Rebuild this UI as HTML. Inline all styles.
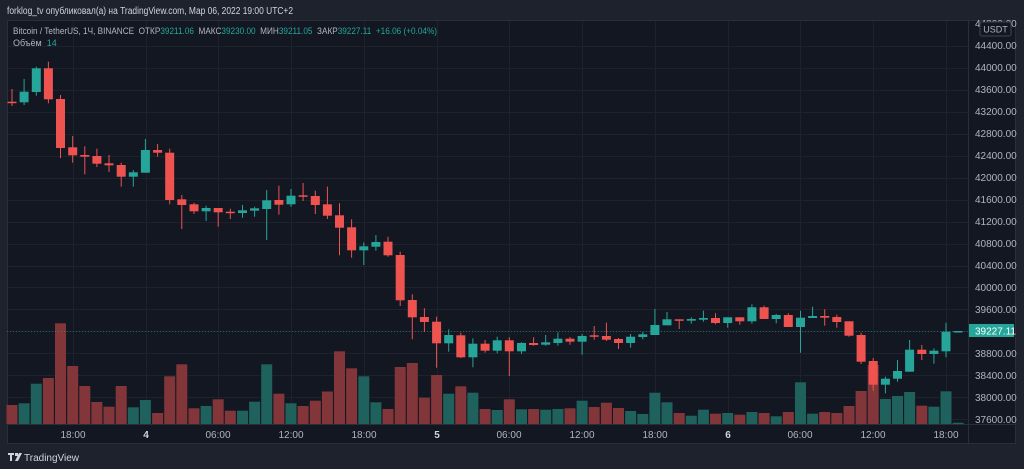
<!DOCTYPE html>
<html><head><meta charset="utf-8"><style>
html,body{margin:0;padding:0;background:#1e222d;width:1024px;height:469px;overflow:hidden;font-family:"Liberation Sans","DejaVu Sans",sans-serif}
</style></head><body>
<svg id="s" width="1024" height="469" xmlns="http://www.w3.org/2000/svg" style="position:absolute;left:0;top:0">
<rect x="0" y="0" width="1024" height="469" fill="#1e222d"/>
<rect x="7" y="20" width="1009" height="424" fill="#131722"/>
<g id="grid" stroke="#1e222d" stroke-width="1"></g>
<line x1="968.5" y1="20" x2="968.5" y2="444" stroke="#2a2e39"/>
<line x1="7" y1="424.5" x2="1016" y2="424.5" stroke="#2a2e39"/>
<rect x="7.5" y="20.5" width="1008" height="423" fill="none" stroke="#2a2e39"/>
<g id="vol"></g>
<line x1="7" y1="331.5" x2="968" y2="331.5" stroke="#26a69a" stroke-opacity="0.5" stroke-dasharray="1,2"/>
<g id="cnd"></g>
<g font-size="10" fill="#b2b5be">
<text x="975" y="27">44800.00</text>
<text x="975" y="49">44400.00</text>
<text x="975" y="71">44000.00</text>
<text x="975" y="93">43600.00</text>
<text x="975" y="115">43200.00</text>
<text x="975" y="137">42800.00</text>
<text x="975" y="159">42400.00</text>
<text x="975" y="181">42000.00</text>
<text x="975" y="203">41600.00</text>
<text x="975" y="225">41200.00</text>
<text x="975" y="247">40800.00</text>
<text x="975" y="269">40400.00</text>
<text x="975" y="291">40000.00</text>
<text x="975" y="313">39600.00</text>
<text x="975" y="357">38800.00</text>
<text x="975" y="379">38400.00</text>
<text x="975" y="401">38000.00</text>
<text x="975" y="423">37600.00</text>
</g>
<rect x="980" y="22" width="31" height="14" rx="2" fill="#131722" stroke="#434651"/>
<text x="995.5" y="32.5" font-size="9" fill="#b2b5be" text-anchor="middle">USDT</text>
<rect x="969" y="324" width="45" height="13" fill="#26a69a"/>
<text x="975" y="334.5" font-size="10" fill="#ffffff">39227.11</text>
<g font-size="10" fill="#b2b5be" text-anchor="middle">
<text x="73" y="438">18:00</text>
<text x="146" y="438" font-weight="bold" fill="#d1d4dc">4</text>
<text x="218" y="438">06:00</text>
<text x="291" y="438">12:00</text>
<text x="364" y="438">18:00</text>
<text x="437" y="438" font-weight="bold" fill="#d1d4dc">5</text>
<text x="509" y="438">06:00</text>
<text x="582" y="438">12:00</text>
<text x="655" y="438">18:00</text>
<text x="728" y="438" font-weight="bold" fill="#d1d4dc">6</text>
<text x="800" y="438">06:00</text>
<text x="873" y="438">12:00</text>
<text x="946" y="438">18:00</text>
</g>
<text x="7" y="14" font-size="10" fill="#d1d4dc" textLength="286" lengthAdjust="spacingAndGlyphs">forklog_tv опубликовал(а) на TradingView.com, Мар 06, 2022 19:00 UTC+2</text>
<text x="13" y="34" font-size="9" fill="#b2b5be" xml:space="preserve" textLength="424" lengthAdjust="spacingAndGlyphs">Bitcoin / TetherUS, 1Ч, BINANCE  ОТКР<tspan fill="#26a69a">39211.06</tspan>  МАКС<tspan fill="#26a69a">39230.00</tspan>  МИН<tspan fill="#26a69a">39211.05</tspan>  ЗАКР<tspan fill="#26a69a">39227.11</tspan>  <tspan fill="#26a69a">+16.06 (+0.04%)</tspan></text>
<text x="13" y="46" font-size="9" fill="#b2b5be" xml:space="preserve">Объём  <tspan fill="#26a69a">14</tspan></text>
<g fill="#d1d4dc"><rect x="8" y="453" width="6" height="2"/><rect x="10" y="453" width="2" height="8"/><rect x="15" y="453" width="3" height="3"/><polygon points="19,453 22,453 18,461 15,461"/></g>
<text x="24" y="461" font-size="10" fill="#d1d4dc">TradingView</text>
</svg>
<script>
var ns="http://www.w3.org/2000/svg";
function el(p,t,a){var e=document.createElementNS(ns,t);for(var k in a)e.setAttribute(k,a[k]);p.appendChild(e);return e;}
var g=document.getElementById('grid');
for(var i=0;i<18;i++){var y=Math.round(45.7+i*21.98)+0.5;el(g,'line',{x1:7,x2:968,y1:y,y2:y});}
[73,146,218,291,364,437,509,582,655,728,800,873,946].forEach(function(x){el(g,'line',{x1:x+.5,x2:x+.5,y1:20,y2:424});});
var C=[[101.7,102.5,89,106],[102.3,91.7,79,105],[92,68.3,66.7,95.7],[68.3,99.3,61.7,103.3],[99,148,95,158],[147.3,155.3,136,162.7],[155,156.7,146.3,174.3],[156,163.7,148.7,167],[163.3,165.3,155,172],[165,176.7,162.7,186.7],[176.7,172.3,170,186.7],[172.7,150,139,172.7],[150,152.7,144,156.7],[152.7,200,148.7,204.3],[199.3,205,195,229],[204.3,211.3,202.7,214],[211.3,208,205.7,221],[208,212.3,208,226.7],[211.7,213,208.7,219],[213,210.3,205,217.7],[210.7,208.3,206.7,216.7],[209,200.3,190,240],[200,204.7,185.7,214.7],[204.3,195.7,189,206.7],[195.3,196.7,183,201],[196,205,190.7,214],
[204.3,215.7,186.7,219],[215.3,227.7,203.3,255.3],[227.3,250.3,219.3,257.7],[250.3,246.3,242.3,265],[246.7,242,235,250.7],[241.7,255.3,236.7,256.7],[255,300.3,251.7,306],[300,317.3,294.3,339.3],[317,322,308.3,332],[321.7,343.3,316.7,367.7],[343.3,335,329.3,351.7],[335.3,357.3,332.7,358],[357.3,343.7,338.3,367.3],[343.7,350.7,340,352.7],[350.7,340.3,336.7,353.3],[340.3,351.3,337.3,376],[351.3,343,342.3,354],[343,345,337.3,345.7],[344.7,342.3,335,345.7],[343,338.7,332.3,345.7],[338.7,341.7,337,344.7],[341.7,336,334,354.7],[335.3,336.7,326,339.7],[336,339.7,322.7,341],[339,343,338,349],[343,336.7,334,347.7],
[337,334.3,332,339.3],[335,325,309,335],[325.3,319.3,312,325.3],[319.3,320.7,319.3,329],[320.7,319,317.3,323.7],[319.7,318,310.7,321.7],[318,323,313.3,324.3],[323,317.3,317.3,327.7],[317.3,321.3,317.3,324.7],[321.3,307.3,304.3,323.7],[307.3,319,305.7,319],[319,315,314,323.3],[315,327,313.3,327],[327,317.7,310.7,352.7],[318,316,306.7,318],[316,317.7,309.3,325.7],[317,322,314.7,327.7],[321.3,335.7,321.3,336.7],[335,361.7,332.7,364],[361,384.7,358,390.7],[384.7,378.7,376.7,393.3],[378.7,371,360,381.7],[371.7,349.7,340,371.7],[349.7,354,345,360],[354,350.7,348.3,363.7],[351.3,331.7,322.7,357.3],[331.7,331,331,332]];
var V=[405,403.3,383.7,378,323.3,366,386,402,406.7,386,407.3,400,413,376.3,364.3,408.3,406,399.3,410.7,410.7,401.7,364.3,393.7,403.3,406,400.7,391.5,351.3,368.3,376.3,402.3,409,367,363,397.7,375,393.7,386.3,392.7,409,410,399.3,409.3,409,409.7,409,408.3,400.7,407,402.7,408,411,414,392.7,402.3,413,415.7,409.7,413.7,413,414.7,412,413,416.3,412,382.3,413.7,412,413,406,391,365,399,396,392,405.7,406.7,391.3,422.7];
var vg=document.getElementById('vol'),cg=document.getElementById('cnd');
C.forEach(function(c,i){
 var x=12+i*12.13;var up=c[1]<=c[0];
 if(i==0)up=false;
 var col=up?'#26a69a':'#ef5350',vc=up?'#1f615d':'#82363a';
 el(vg,'rect',{x:(x-5.5).toFixed(1),y:V[i],width:11,height:(424-V[i]).toFixed(1),fill:vc});
 el(cg,'line',{x1:x.toFixed(1),x2:x.toFixed(1),y1:c[2],y2:c[3],stroke:col,'stroke-width':1});
 var t=Math.min(c[0],c[1]),h=Math.max(1.5,Math.abs(c[1]-c[0]));
 el(cg,'rect',{x:(x-4.5).toFixed(1),y:t,width:9,height:h,fill:col});
});
</script>
</body></html>
